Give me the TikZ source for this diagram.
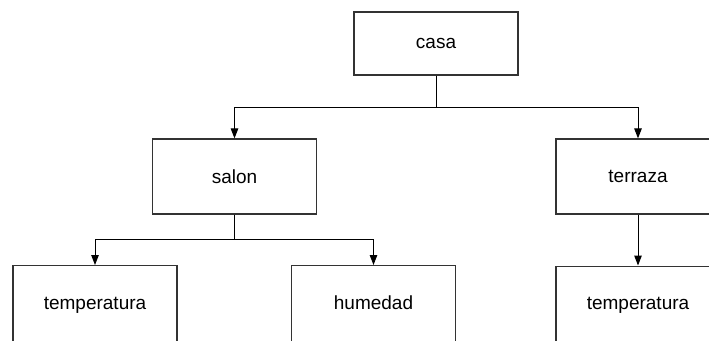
\documentclass[tikz,border=0pt]{standalone}
\usepackage{fontspec}
\setmainfont{Liberation Sans}
\usetikzlibrary{arrows.meta}
\begin{document}
\begin{tikzpicture}[x=1pt,y=-1pt,
  box/.style={draw=black!80,line width=1.2pt,minimum width=164pt,inner sep=0pt,font=\fontsize{19}{22}\selectfont,fill=white},
  lbl/.style={font=\fontsize{19}{22}\selectfont,anchor=base,inner sep=0pt},
  conn/.style={draw=black,line width=1pt,-{Triangle[length=10pt,width=7.5pt]}}]
\useasboundingbox (0,0) rectangle (709,340);
\clip (0,0) rectangle (709,340);
\node[box,minimum height=63pt] (casa) at (436,43.5) {casa};
\node[box,minimum height=75pt] (salon) at (234.5,176.5) {salon};
\node[box,minimum height=75pt] (terraza) at (638,176.5) {terraza};
\node[box,minimum height=80pt,anchor=north] (t1) at (95,265) {};
\node[box,minimum height=80pt,anchor=north] (hum) at (373.5,265) {};
\node[box,minimum height=80pt,anchor=north] (t2) at (638,265.5) {};
\node[lbl] (t1l) at (95,309) {temperatura};
\node[lbl] (huml) at (373.5,309) {humedad};
\node[lbl] (t2l) at (638,309) {temperatura};
\draw[conn] (casa.south) -- ++(0,32) -| (salon.north);
\draw[conn] (casa.south) -- ++(0,32) -| (terraza.north);
\draw[conn] (salon.south) -- ++(0,25) -| (t1.north);
\draw[conn] (salon.south) -- ++(0,25) -| (hum.north);
\draw[conn] (terraza.south) -- (t2.north);
\end{tikzpicture}
\end{document}
